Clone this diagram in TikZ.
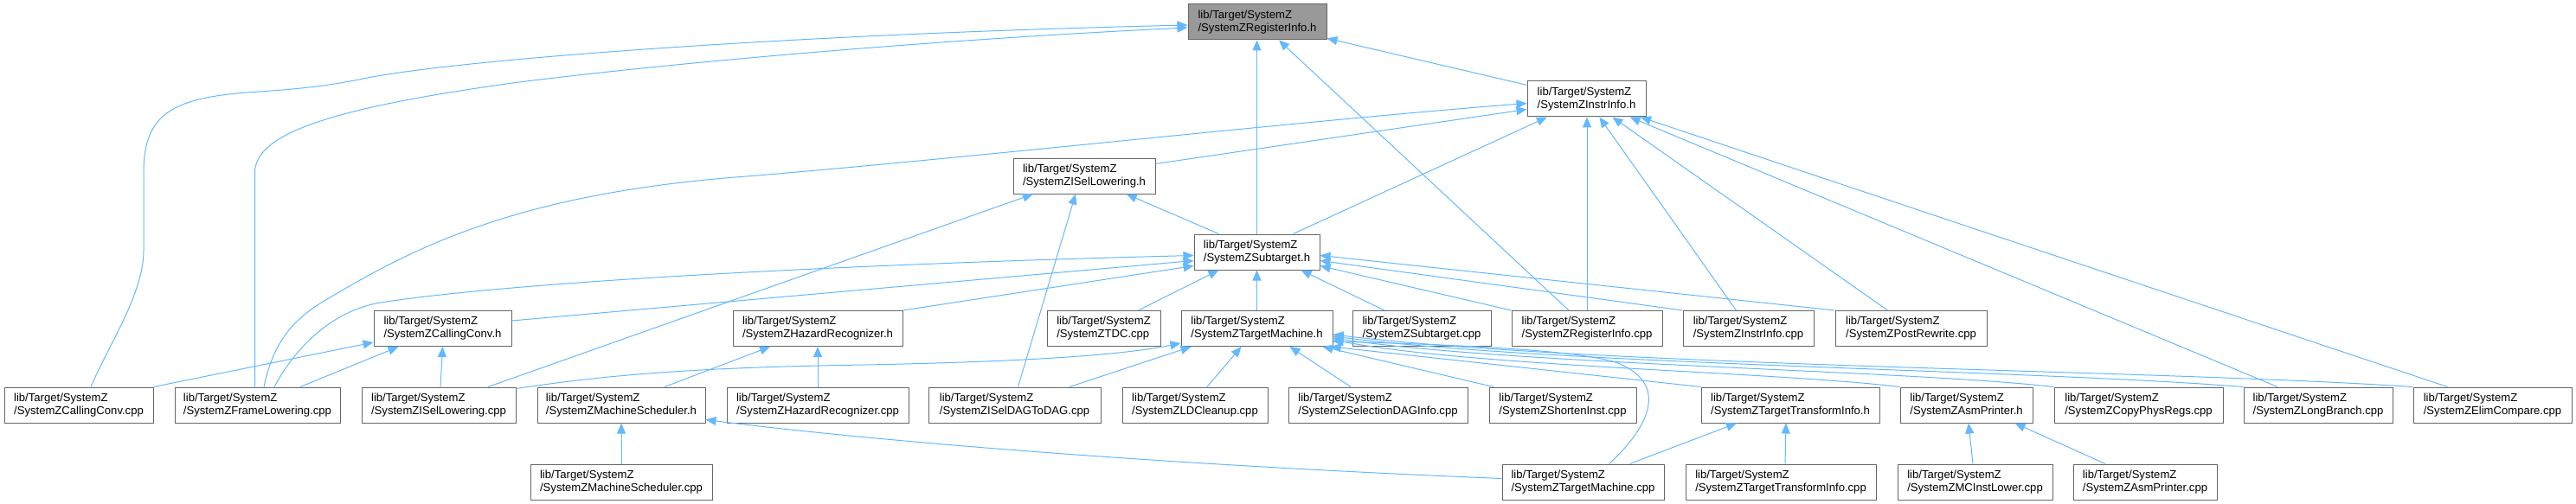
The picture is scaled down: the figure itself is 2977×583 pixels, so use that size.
\documentclass[tikz,border=0pt]{standalone}
\usepackage{fontspec}
\setmainfont{Liberation Sans}
\usetikzlibrary{arrows.meta}
\definecolor{edgeblue}{HTML}{63B8FF}
\definecolor{boxgray}{HTML}{666666}
\definecolor{hlgray}{HTML}{999999}
\begin{document}
\begin{tikzpicture}[x=1pt,y=-1pt,
  box/.style={draw=boxgray, line width=1pt, fill=white, minimum height=41pt, inner xsep=0pt, inner ysep=0pt, align=left, font=\fontsize{13.1}{15}\selectfont},
  edge/.style={draw=edgeblue, line width=1pt, -{Triangle[length=12pt,width=10pt]}}]
\useasboundingbox (0,0) rectangle (2977,583);
% row 0-2
\node[box,fill=hlgray,minimum width=160pt] (RIh) at (1453,25.5) {lib/Target/SystemZ\\/SystemZRegisterInfo.h};
\node[box,minimum width=137pt] (IIh) at (1833.5,114.5) {lib/Target/SystemZ\\/SystemZInstrInfo.h};
\node[box,minimum width=164pt] (ISLh) at (1253,203.5) {lib/Target/SystemZ\\/SystemZISelLowering.h};
\node[box,minimum width=145pt] (STh) at (1452.5,291.5) {lib/Target/SystemZ\\/SystemZSubtarget.h};
% row 3
\node[box,minimum width=159pt] (CCh) at (511.5,380) {lib/Target/SystemZ\\/SystemZCallingConv.h};
\node[box,minimum width=196pt] (HRh) at (945,380) {lib/Target/SystemZ\\/SystemZHazardRecognizer.h};
\node[box,minimum width=131pt] (TDC) at (1275.5,380) {lib/Target/SystemZ\\/SystemZTDC.cpp};
\node[box,minimum width=175pt] (TMh) at (1452.5,380) {lib/Target/SystemZ\\/SystemZTargetMachine.h};
\node[box,minimum width=160pt] (STcpp) at (1643,380) {lib/Target/SystemZ\\/SystemZSubtarget.cpp};
\node[box,minimum width=174pt] (RIcpp) at (1834,380) {lib/Target/SystemZ\\/SystemZRegisterInfo.cpp};
\node[box,minimum width=151pt] (IIcpp) at (2020.5,380) {lib/Target/SystemZ\\/SystemZInstrInfo.cpp};
\node[box,minimum width=175pt] (PRcpp) at (2208.5,380) {lib/Target/SystemZ\\/SystemZPostRewrite.cpp};
% row 4
\node[box,minimum width=172pt] (CCcpp) at (91,468.5) {lib/Target/SystemZ\\/SystemZCallingConv.cpp};
\node[box,minimum width=191pt] (FLcpp) at (297.5,468.5) {lib/Target/SystemZ\\/SystemZFrameLowering.cpp};
\node[box,minimum width=178pt] (ISLcpp) at (507,468.5) {lib/Target/SystemZ\\/SystemZISelLowering.cpp};
\node[box,minimum width=194pt] (MSh) at (718,468.5) {lib/Target/SystemZ\\/SystemZMachineScheduler.h};
\node[box,minimum width=210pt] (HRcpp) at (945,468.5) {lib/Target/SystemZ\\/SystemZHazardRecognizer.cpp};
\node[box,minimum width=199pt] (IDDcpp) at (1172.5,468.5) {lib/Target/SystemZ\\/SystemZISelDAGToDAG.cpp};
\node[box,minimum width=168pt] (LDCcpp) at (1381,468.5) {lib/Target/SystemZ\\/SystemZLDCleanup.cpp};
\node[box,minimum width=207pt] (SDIcpp) at (1592.5,468.5) {lib/Target/SystemZ\\/SystemZSelectionDAGInfo.cpp};
\node[box,minimum width=170pt] (SIcpp) at (1806,468.5) {lib/Target/SystemZ\\/SystemZShortenInst.cpp};
\node[box,minimum width=206pt] (TTIh) at (2069,468.5) {lib/Target/SystemZ\\/SystemZTargetTransformInfo.h};
\node[box,minimum width=153pt] (APh) at (2272.5,468.5) {lib/Target/SystemZ\\/SystemZAsmPrinter.h};
\node[box,minimum width=195pt] (CPRcpp) at (2471.5,468.5) {lib/Target/SystemZ\\/SystemZCopyPhysRegs.cpp};
\node[box,minimum width=172pt] (LBcpp) at (2679,468.5) {lib/Target/SystemZ\\/SystemZLongBranch.cpp};
\node[box,minimum width=183pt] (ECcpp) at (2880.5,468.5) {lib/Target/SystemZ\\/SystemZElimCompare.cpp};
% row 5
\node[box,minimum width=210pt] (MScpp) at (718,557.5) {lib/Target/SystemZ\\/SystemZMachineScheduler.cpp};
\node[box,minimum width=187pt] (TMcpp) at (1829.5,557.5) {lib/Target/SystemZ\\/SystemZTargetMachine.cpp};
\node[box,minimum width=220pt] (TTIcpp) at (2058,557.5) {lib/Target/SystemZ\\/SystemZTargetTransformInfo.cpp};
\node[box,minimum width=179pt] (MCIcpp) at (2282.5,557.5) {lib/Target/SystemZ\\/SystemZMCInstLower.cpp};
\node[box,minimum width=166pt] (APcpp) at (2479,557.5) {lib/Target/SystemZ\\/SystemZAsmPrinter.cpp};
% edges into RegisterInfo.h
\draw[edge] (IIh) -- (RIh);
\draw[edge] ([xshift=14pt]CCcpp.north) .. controls (125,400) and (166,340) .. (166,290) -- (166,200) .. controls (166,130) and (200,112) .. (300,106) .. controls (360,102) and (390,97) .. (420,91) .. controls (520,70) and (900,40) .. ([yshift=-3.5pt]RIh.west);
\draw[edge] ([xshift=-3pt]FLcpp.north) -- (294.5,200) .. controls (294.5,155) and (380,125) .. (600,95) .. controls (800,70) and (1100,45) .. ([yshift=-6.5pt]RIh.west);
\draw[edge] (STh.north) -- (STh.north |- RIh.south);
\draw[edge] ([xshift=-21pt]RIcpp.north) -- ([xshift=25pt]RIh.south);
% edges into InstrInfo.h
\draw[edge] ([yshift=14pt]ISLh.east) -- ([yshift=-12pt]IIh.west);
\draw[edge] ([xshift=7.5pt]FLcpp.north) .. controls (315,400) and (335,370) .. (380,345) .. controls (480,285) and (600,225) .. (850,205) .. controls (1100,185) and (1500,140) .. ([yshift=-5pt]IIh.west);
\draw[edge] ([xshift=42pt]STh.north) -- (IIh);
\draw[edge] (RIcpp.north) -- (RIcpp.north |- IIh.south);
\draw[edge] ([xshift=-14pt]IIcpp.north) -- (IIh);
\draw[edge] ([xshift=-27pt]PRcpp.north) -- (IIh);
\draw[edge] ([xshift=-47pt]LBcpp.north) -- (IIh);
\draw[edge] ([xshift=-52pt]ECcpp.north) -- (IIh);
% edges into ISelLowering.h
\draw[edge] ([xshift=57pt]ISLcpp.north) -- (ISLh);
\draw[edge] ([xshift=4pt]IDDcpp.north) -- ([xshift=-10pt]ISLh.south);
\draw[edge] ([xshift=-44pt]STh.north) -- (ISLh);
% edges into Subtarget.h
\draw[edge] ([xshift=19.5pt]FLcpp.north) .. controls (345,395) and (390,358) .. (440,350) .. controls (600,325) and (1000,305) .. ([yshift=-4pt]STh.west);
\draw[edge] ([yshift=9pt]CCh.east) -- ([yshift=-10pt]STh.west);
\draw[edge] (HRh.north east) -- ([yshift=-16pt]STh.west);
\draw[edge] ([xshift=40pt]TDC.north) -- ([xshift=-44pt]STh.south);
\draw[edge] (TMh.north) -- (STh.south);
\draw[edge] ([xshift=-43pt]STcpp.north) -- ([xshift=51pt]STh.south);
\draw[edge] (RIcpp.north west) -- ([yshift=-16pt]STh.east);
\draw[edge] (IIcpp.north west) -- ([yshift=-10pt]STh.east);
\draw[edge] (PRcpp.north west) -- ([yshift=-4pt]STh.east);
% edges into CallingConv.h
\draw[edge] (CCcpp.north east) -- ([yshift=-16pt]CCh.west);
\draw[edge] ([xshift=49.5pt]FLcpp.north) -- ([xshift=-51pt]CCh.south);
\draw[edge] ([xshift=2pt]ISLcpp.north) -- (CCh.south);
% edges into HazardRecognizer.h
\draw[edge] ([xshift=50pt]MSh.north) -- ([xshift=-55pt]HRh.south);
\draw[edge] (HRcpp.north) -- (HRh.south);
% edges into MachineScheduler.h
\draw[edge] (MScpp.north) -- (MSh.south);
\draw[edge] ([yshift=4pt]TMcpp.west) .. controls (1400,540) and (1050,515) .. ([yshift=4pt]MSh.south east);
% edges into TargetMachine.h
\draw[edge] ([yshift=19pt]ISLcpp.east) .. controls (700,434) and (800,425) .. (1000,422) .. controls (1200,418) and (1300,410) .. ([yshift=-17pt]TMh.west);
\draw[edge] ([xshift=63.5pt]IDDcpp.north) -- ([xshift=-76pt]TMh.south);
\draw[edge] ([xshift=14pt]LDCcpp.north) -- ([xshift=-18pt]TMh.south);
\draw[edge] ([xshift=-31.5pt]SDIcpp.north) -- ([xshift=38pt]TMh.south);
\draw[edge] ([xshift=-80pt]SIcpp.north) -- ([xshift=-12pt]TMh.south east);
\draw[edge] (TTIh.north west) -- ([xshift=-3pt]TMh.south east);
\draw[edge] ([xshift=30pt]TMcpp.north) .. controls (1905,495) and (1930,445) .. (1870,420) .. controls (1820,403) and (1650,398) .. ([yshift=-15pt]TMh.east);
\draw[edge] (APh.north west) .. controls (2050,430) and (1700,424) .. ([yshift=-13pt]TMh.east);
\draw[edge] (CPRcpp.north west) .. controls (2200,428) and (1750,422) .. ([yshift=-11pt]TMh.east);
\draw[edge] (LBcpp.north west) .. controls (2350,428) and (1800,422) .. ([yshift=-9pt]TMh.east);
\draw[edge] (ECcpp.north west) .. controls (2500,428) and (1850,424) .. ([yshift=-7pt]TMh.east);
% edges into TargetTransformInfo.h
\draw[edge] ([xshift=54pt]TMcpp.north) -- ([xshift=-62pt]TTIh.south);
\draw[edge] ([xshift=5pt]TTIcpp.north) -- ([xshift=-5pt]TTIh.south);
% edges into AsmPrinter.h
\draw[edge] ([xshift=-2.5pt]MCIcpp.north) -- ([xshift=2.5pt]APh.south);
\draw[edge] ([xshift=-46pt]APcpp.north) -- ([xshift=56pt]APh.south);
\end{tikzpicture}
\end{document}
